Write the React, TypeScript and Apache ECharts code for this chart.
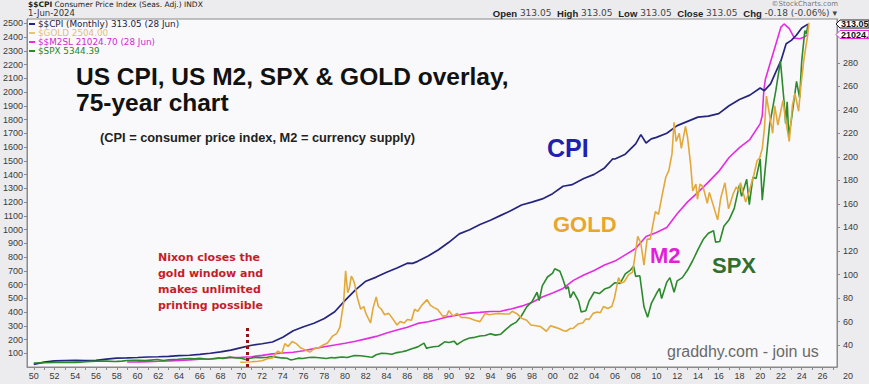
import React, { useEffect, useRef } from "react";
import * as echarts from "echarts";

// ---------- DATA ----------
const xLabelYears = [1950, 1952, 1954, 1956, 1958, 1960, 1962, 1964, 1966, 1968, 1970, 1972, 1974, 1976, 1978, 1980, 1982, 1984, 1986, 1988, 1990, 1992, 1994, 1996, 1998, 2000, 2002, 2004, 2006, 2008, 2010, 2012, 2014, 2016, 2018, 2020, 2022, 2024, 2026];
const xTickYears = [1950, 1951, 1952, 1953, 1954, 1955, 1956, 1957, 1958, 1959, 1960, 1961, 1962, 1963, 1964, 1965, 1966, 1967, 1968, 1969, 1970, 1971, 1972, 1973, 1974, 1975, 1976, 1977, 1978, 1979, 1980, 1981, 1982, 1983, 1984, 1985, 1986, 1987, 1988, 1989, 1990, 1991, 1992, 1993, 1994, 1995, 1996, 1997, 1998, 1999, 2000, 2001, 2002, 2003, 2004, 2005, 2006, 2007, 2008, 2009, 2010, 2011, 2012, 2013, 2014, 2015, 2016, 2017, 2018, 2019, 2020, 2021, 2022, 2023, 2024, 2025, 2026, 2027];
const leftTicks = [100, 200, 300, 400, 500, 600, 700, 800, 900, 1000, 1100, 1200, 1300, 1400, 1500, 1600, 1700, 1800, 1900, 2000, 2100, 2200, 2300, 2400, 2500];
const rightTicks = [40, 60, 80, 100, 120, 140, 160, 180, 200, 220, 240, 260, 280];

const cpiSeries: [number, number][] = [
  [1950.0, 23.5], [1951.0, 25.4], [1952.0, 26.5], [1953.0, 26.7], [1954.0, 26.9], [1955.0, 26.8], [1956.0, 27.0], [1957.0, 28.0], [1958.0, 28.9], [1959.0, 29.1],
  [1960.0, 29.4], [1961.0, 29.8], [1962.0, 30.0], [1963.0, 30.4], [1964.0, 30.9], [1965.0, 31.3], [1966.0, 32.0], [1967.0, 33.0], [1968.0, 34.1], [1969.0, 35.6],
  [1970.0, 37.8], [1971.0, 39.8], [1972.0, 41.1], [1973.0, 42.6], [1974.0, 46.6], [1975.0, 52.1], [1976.0, 55.6], [1977.0, 58.5], [1978.0, 62.5], [1979.0, 68.3],
  [1980.0, 78.0], [1981.0, 87.0], [1982.0, 94.3], [1983.0, 97.8], [1984.0, 101.9], [1985.0, 105.5], [1986.0, 109.6], [1986.5, 109.5], [1987.0, 111.2], [1988.0, 115.7], [1989.0, 121.1],
  [1990.0, 127.4], [1991.0, 134.6], [1992.0, 138.1], [1993.0, 142.6], [1994.0, 146.2], [1995.0, 150.3], [1996.0, 154.4], [1997.0, 159.1], [1998.0, 161.6], [1999.0, 164.3],
  [2000.0, 168.8], [2001.0, 175.1], [2001.9, 176.5], [2002.0, 177.1], [2003.0, 181.7], [2004.0, 185.2], [2005.0, 190.7], [2005.8, 198.5], [2006.0, 198.3], [2007.0, 202.4], [2008.0, 211.1],
  [2008.5, 219.0], [2009.0, 211.9], [2009.5, 215.4], [2010.0, 216.7], [2011.0, 220.2], [2012.0, 226.7], [2013.0, 230.3], [2014.0, 233.9], [2015.0, 234.7],
  [2016.0, 236.9], [2017.0, 243.6], [2018.0, 248.9], [2019.0, 252.6], [2020.0, 258.7], [2020.4, 256.4], [2021.0, 262.2], [2021.5, 272.2], [2022.0, 281.9],
  [2022.5, 296.3], [2023.0, 299.2], [2023.5, 303.8], [2024.0, 309.7], [2024.6, 313.05]
];

const goldSeries: [number, number][] = [
  [1969.9, 35], [1970.5, 36], [1971.0, 38], [1971.6, 42], [1972.0, 46], [1972.5, 60], [1973.0, 65], [1973.5, 115], [1973.9, 100], [1974.2, 170],
  [1974.5, 150], [1974.9, 185], [1975.3, 170], [1975.7, 140], [1976.0, 130], [1976.6, 108], [1977.0, 132], [1977.5, 142], [1977.9, 160], [1978.3, 175],
  [1978.8, 225], [1979.2, 245], [1979.5, 290], [1979.7, 390], [1979.85, 460], [1980.05, 700], [1980.25, 540], [1980.4, 570], [1980.6, 660], [1980.75, 640],
  [1980.9, 610], [1981.2, 500], [1981.5, 420], [1981.8, 440], [1982.0, 390], [1982.45, 320], [1982.7, 430], [1983.0, 510], [1983.2, 440], [1983.5, 420],
  [1983.8, 380], [1984.2, 390], [1984.6, 350], [1985.0, 305], [1985.3, 330], [1985.7, 320], [1986.0, 345], [1986.4, 340], [1986.7, 420], [1987.0, 405],
  [1987.4, 450], [1987.9, 490], [1988.2, 450], [1988.6, 430], [1988.9, 420], [1989.4, 370], [1989.8, 375], [1990.0, 410], [1990.4, 370], [1990.8, 390],
  [1991.2, 360], [1991.6, 360], [1992.0, 355], [1992.5, 340], [1993.0, 330], [1993.5, 390], [1993.9, 380], [1994.3, 385], [1994.8, 390], [1995.3, 385],
  [1995.8, 385], [1996.1, 405], [1996.6, 385], [1997.0, 355], [1997.5, 340], [1997.9, 305], [1998.4, 300], [1998.8, 295], [1999.4, 260], [1999.8, 300],
  [2000.2, 290], [2000.6, 280], [2001.0, 265], [2001.3, 260], [2001.7, 280], [2002.0, 282], [2002.5, 315], [2002.9, 320], [2003.2, 350], [2003.5, 345],
  [2003.9, 390], [2004.3, 400], [2004.6, 395], [2004.9, 440], [2005.3, 425], [2005.7, 440], [2005.95, 500], [2006.35, 650], [2006.6, 610], [2006.9, 620],
  [2007.3, 670], [2007.7, 690], [2007.9, 790], [2008.2, 950], [2008.5, 900], [2008.8, 740], [2009.1, 930], [2009.4, 930], [2009.9, 1130], [2010.2, 1110],
  [2010.5, 1230], [2010.9, 1380], [2011.2, 1430], [2011.5, 1550], [2011.7, 1780], [2011.9, 1640], [2012.2, 1700], [2012.4, 1590], [2012.8, 1750], [2013.0, 1670],
  [2013.3, 1470], [2013.5, 1280], [2013.8, 1330], [2013.95, 1220], [2014.2, 1330], [2014.5, 1310], [2014.9, 1190], [2015.1, 1270], [2015.5, 1170], [2015.9, 1070],
  [2016.2, 1230], [2016.6, 1340], [2016.95, 1150], [2017.4, 1260], [2017.7, 1310], [2017.95, 1280], [2018.1, 1340], [2018.6, 1200], [2018.95, 1280], [2019.4, 1400],
  [2019.7, 1500], [2019.95, 1520], [2020.2, 1590], [2020.4, 1730], [2020.6, 1970], [2020.8, 1880], [2021.2, 1700], [2021.4, 1900], [2021.7, 1760], [2022.2, 1940],
  [2022.4, 1820], [2022.8, 1640], [2023.1, 1900], [2023.35, 1990], [2023.7, 1860], [2023.9, 2030], [2024.2, 2230], [2024.4, 2330], [2024.55, 2400], [2024.7, 2504]
];

const m2Series: [number, number][] = [
  [1959.0, 286], [1960.0, 298], [1961.0, 312], [1962.0, 334], [1963.0, 362], [1964.0, 392], [1965.0, 424], [1966.0, 460], [1967.0, 481], [1968.0, 527],
  [1969.0, 571], [1970.0, 589], [1971.0, 627], [1972.0, 710], [1973.0, 802], [1974.0, 856], [1975.0, 909], [1976.0, 1007], [1977.0, 1136], [1978.0, 1252],
  [1979.0, 1362], [1980.0, 1475], [1981.0, 1601], [1982.0, 1756], [1983.0, 1911], [1984.0, 2127], [1985.0, 2312], [1986.0, 2497], [1987.0, 2734], [1988.0, 2835],
  [1989.0, 2996], [1990.0, 3165], [1991.0, 3284], [1992.0, 3383], [1993.0, 3431], [1994.0, 3491], [1995.0, 3502], [1996.0, 3651], [1997.0, 3827], [1998.0, 4054],
  [1999.0, 4405], [2000.0, 4655], [2001.0, 4949], [2002.0, 5461], [2003.0, 5797], [2004.0, 6082], [2005.0, 6430], [2006.0, 6681], [2007.0, 7078], [2008.0, 7476],
  [2009.0, 8244], [2010.0, 8487], [2011.0, 8812], [2012.0, 9681], [2013.0, 10430], [2014.0, 11030], [2015.0, 11680], [2016.0, 12360], [2017.0, 13240], [2018.0, 13870],
  [2019.0, 14380], [2020.0, 15390], [2020.2, 15900], [2020.35, 17500], [2020.5, 18200], [2021.0, 19300], [2021.5, 20400], [2022.0, 21500], [2022.3, 21700], [2022.8, 21400],
  [2023.3, 20800], [2023.8, 20760], [2024.2, 20850], [2024.6, 21024]
];

const spxSeries: [number, number][] = [
  [1950.0, 17], [1951.0, 21], [1952.0, 24], [1953.0, 25], [1953.7, 23], [1954.0, 26], [1954.5, 29], [1955.0, 36], [1955.5, 41], [1956.0, 44],
  [1956.6, 47], [1957.0, 45], [1957.8, 40], [1958.0, 41], [1958.5, 45], [1959.0, 55], [1959.6, 59], [1960.0, 58], [1960.8, 54], [1961.0, 58],
  [1961.9, 71], [1962.5, 55], [1963.0, 66], [1963.9, 74], [1964.5, 82], [1965.0, 86], [1965.5, 84], [1966.0, 92], [1966.8, 74], [1967.0, 80],
  [1967.9, 96], [1968.2, 89], [1968.9, 108], [1969.5, 95], [1970.0, 90], [1970.4, 72], [1971.0, 95], [1971.3, 104], [1971.9, 100], [1972.5, 107],
  [1972.95, 118], [1973.5, 105], [1973.9, 96], [1974.4, 90], [1974.75, 65], [1975.0, 70], [1975.5, 92], [1975.9, 88], [1976.5, 102], [1976.95, 107],
  [1977.5, 99], [1978.2, 88], [1978.7, 103], [1979.0, 96], [1979.7, 110], [1980.2, 102], [1980.9, 135], [1981.5, 130], [1982.4, 110], [1982.6, 107],
  [1983.0, 145], [1983.5, 168], [1984.0, 165], [1984.5, 153], [1985.0, 180], [1985.5, 192], [1985.95, 211], [1986.5, 245], [1987.0, 270], [1987.6, 330],
  [1987.85, 245], [1988.0, 257], [1988.5, 272], [1989.0, 280], [1989.6, 350], [1990.0, 340], [1990.5, 360], [1990.8, 305], [1991.0, 330], [1991.5, 380],
  [1992.0, 410], [1992.5, 420], [1993.0, 440], [1993.5, 450], [1994.0, 475], [1994.5, 455], [1995.0, 470], [1995.5, 545], [1996.0, 615], [1996.5, 660],
  [1997.0, 760], [1997.5, 900], [1998.0, 980], [1998.5, 1130], [1998.7, 1000], [1999.0, 1230], [1999.5, 1370], [2000.0, 1430], [2000.2, 1500], [2000.7, 1460],
  [2001.0, 1330], [2001.3, 1180], [2001.5, 1220], [2001.7, 1040], [2002.0, 1140], [2002.5, 990], [2002.75, 820], [2003.2, 840], [2003.5, 990], [2004.0, 1130],
  [2004.5, 1110], [2005.0, 1180], [2005.5, 1210], [2006.0, 1280], [2006.5, 1270], [2007.0, 1420], [2007.5, 1480], [2007.8, 1540], [2008.0, 1380], [2008.4, 1390],
  [2008.8, 900], [2009.15, 735], [2009.5, 950], [2010.0, 1110], [2010.3, 1190], [2010.5, 1030], [2011.0, 1290], [2011.3, 1360], [2011.7, 1130], [2012.0, 1310],
  [2012.5, 1360], [2013.0, 1480], [2013.5, 1630], [2014.0, 1800], [2014.5, 1960], [2015.0, 2060], [2015.5, 2100], [2015.7, 1920], [2016.1, 1930], [2016.5, 2170],
  [2017.0, 2270], [2017.5, 2450], [2018.0, 2820], [2018.2, 2640], [2018.7, 2910], [2018.95, 2510], [2019.3, 2940], [2019.6, 2920], [2020.0, 3230], [2020.2, 2580],
  [2020.5, 3100], [2020.9, 3760], [2021.5, 4300], [2021.95, 4770], [2022.3, 4130], [2022.45, 3790], [2022.6, 4130], [2022.75, 3590], [2023.0, 3840], [2023.5, 4450],
  [2023.8, 4190], [2024.0, 4770], [2024.3, 5250], [2024.45, 5200], [2024.6, 5344]
];

const nixonYear = 1970.6;

// ---------- STYLE ----------
const C_CPI = "#25257f";
const C_GOLD = "#e2a83a";
const C_M2 = "#e52ce0";
const C_SPX = "#2b8a2b";
const FONT = "'Liberation Sans', Arial, sans-serif";
const VFONT = "'DejaVu Sans', Verdana, sans-serif";

export default function App() {
  const ref = useRef<HTMLDivElement>(null);
  useEffect(() => {
    if (!ref.current) return;
    const chart = echarts.init(ref.current, null, { renderer: "svg" });
    const axisLine = { show: true, lineStyle: { color: "#8a8a8a", width: 1 } };
    const legendRows = [
      { t: "$$CPI (Monthly) 313.05 (28 Jun)", c: C_CPI, tc: "#23233f" },
      { t: "$GOLD 2504.00", c: "#e4c674", tc: "#e0c078" },
      { t: "$$M2SL 21024.70 (28 Jun)", c: C_M2, tc: "#d22ad0" },
      { t: "$SPX 5344.39", c: C_SPX, tc: "#2a842a" },
    ];
    const legendGraphics: any[] = [];
    legendRows.forEach((r, i) => {
      const y = 24 + i * 9;
      legendGraphics.push({ type: "line", shape: { x1: 29, y1: y, x2: 35, y2: y }, style: { stroke: r.c, lineWidth: 2 }, z: 100 });
      legendGraphics.push({ type: "text", x: 38, y, style: { text: r.t, fill: r.tc, font: `8.8px ${VFONT}`, verticalAlign: "middle" }, z: 100 });
    });

    chart.setOption({
      animation: false,
      backgroundColor: "#ececef",
      grid: { left: 26, right: 32, top: 19, bottom: 17, show: true, backgroundColor: "#f9f9fb", borderColor: "#8a8a8a", borderWidth: 1 },
      xAxis: {
        type: "value", min: 1949.35, max: 2027.4,
        axisLine,
        splitLine: { show: false },
        axisTick: { show: true, customValues: xTickYears, length: 3, lineStyle: { color: "#8a8a8a" } },
        axisLabel: { customValues: xLabelYears, formatter: (v: number) => String(Math.round(v) % 100).padStart(2, "0"), fontSize: 9, color: "#3a3a3a", fontFamily: FONT, margin: 4 },
      },
      yAxis: [
        {
          type: "value", min: 0, max: 2531, position: "left",
          axisLine, splitLine: { show: false },
          axisTick: { show: true, customValues: leftTicks, length: 3, lineStyle: { color: "#8a8a8a" } },
          axisLabel: { customValues: leftTicks, formatter: (v: number) => String(Math.round(v)), fontSize: 9, color: "#3a3a3a", fontFamily: FONT, margin: 4 },
        },
        {
          type: "value", min: 21.3, max: 317.4, position: "right",
          axisLine, splitLine: { show: false },
          axisTick: { show: true, customValues: rightTicks, length: 3, lineStyle: { color: "#8a8a8a" } },
          axisLabel: { customValues: rightTicks, formatter: (v: number) => String(Math.round(v)), fontSize: 9, color: "#3a3a3a", fontFamily: FONT, margin: 6 },
        },
        { type: "value", min: -27, max: 22013, show: false },
        { type: "value", min: -47, max: 5433, show: false },
      ],
      series: [
        { name: "M2", type: "line", yAxisIndex: 2, data: m2Series, showSymbol: false, lineStyle: { color: C_M2, width: 1.6 }, z: 2 },
        { name: "CPI", type: "line", yAxisIndex: 1, data: cpiSeries, showSymbol: false, lineStyle: { color: C_CPI, width: 1.7 }, z: 3 },
        { name: "SPX", type: "line", yAxisIndex: 3, data: spxSeries, showSymbol: false, lineStyle: { color: C_SPX, width: 1.6 }, z: 4 },
        {
          name: "GOLD", type: "line", yAxisIndex: 0, data: goldSeries, showSymbol: false, lineStyle: { color: C_GOLD, width: 1.6 }, z: 5,
          markLine: {
            silent: true, symbol: "none", label: { show: false },
            lineStyle: { color: "#8e1414", width: 3, type: [3, 3] },
            data: [[{ coord: [nixonYear, 0] }, { coord: [nixonYear, 290] }]],
          },
        },
      ],
      graphic: [
        // header
        { type: "text", x: 28, y: 0, style: { text: "{b|$$CPI} Consumer Price Index (Seas. Adj.) INDX", fill: "#222", font: `7.5px ${VFONT}`, rich: { b: { fontWeight: "bold", fontSize: 7.5, fontFamily: VFONT, fill: "#222" } } } },
        { type: "text", x: 28, y: 8, style: { text: "1-Jun-2024", fill: "#333", font: `8.5px ${VFONT}` } },
        { type: "text", x: 838, y: 0, style: { text: "©StockCharts.com", fill: "#777", font: `7px ${VFONT}`, align: "right" } },
        {
          type: "text", x: 837, y: 8,
          style: {
            text: "{b|Open} 313.05  {b|High} 313.05  {b|Low} 313.05  {b|Close} 313.05  {b|Chg} -0.18 (-0.06%) ▾",
            fill: "#444", font: `9px ${VFONT}`, align: "right",
            rich: { b: { fontWeight: "bold", fontSize: 9.5, fontFamily: FONT, fill: "#222" } },
          },
        },
        ...legendGraphics,
        // price tags on right
        { type: "polygon", shape: { points: [[836, 24], [840, 20], [869, 20], [869, 28], [840, 28]] }, style: { fill: "#fff", stroke: "#222", lineWidth: 1 }, z: 100 },
        { type: "text", x: 841, y: 24, style: { text: "313.05", fill: "#111", font: `bold 9px ${FONT}`, verticalAlign: "middle" }, z: 101 },
        { type: "polygon", shape: { points: [[836, 34.5], [840, 30.5], [869, 30.5], [869, 38.5], [840, 38.5]] }, style: { fill: "#fff", stroke: C_M2, lineWidth: 1 }, z: 100 },
        { type: "text", x: 841, y: 34.5, style: { text: "21024.", fill: "#111", font: `bold 9px ${FONT}`, verticalAlign: "middle" }, z: 101 },
        { type: "text", x: 843, y: 376, style: { text: "20", fill: "#3a3a3a", font: `9px ${FONT}`, verticalAlign: "middle" } },
        // titles
        { type: "text", x: 76, y: 64, style: { text: "US CPI, US M2, SPX & GOLD overlay,", fill: "#111", font: `bold 24.5px ${FONT}` }, z: 50 },
        { type: "text", x: 76, y: 90, style: { text: "75-year chart", fill: "#111", font: `bold 24.5px ${FONT}` }, z: 50 },
        { type: "text", x: 100, y: 131, style: { text: "(CPI = consumer price index, M2 = currency supply)", fill: "#222", font: `bold 12.8px ${FONT}` }, z: 50 },
        // series labels
        { type: "text", x: 547, y: 135, style: { text: "CPI", fill: "#1f1fb0", font: `bold 25px ${FONT}` }, z: 50 },
        { type: "text", x: 553, y: 213, style: { text: "GOLD", fill: "#e8a62c", font: `bold 22px ${FONT}` }, z: 50 },
        { type: "text", x: 650, y: 244, style: { text: "M2", fill: "#e21fd8", font: `bold 22px ${FONT}` }, z: 50 },
        { type: "text", x: 712, y: 254, style: { text: "SPX", fill: "#2f6f2f", font: `bold 22px ${FONT}` }, z: 50 },
        // Nixon annotation
        { type: "text", x: 158, y: 249, style: { text: "Nixon closes the\ngold window and\nmakes unlimited\nprinting possible", fill: "#c41e2a", font: `bold 11px ${VFONT}`, lineHeight: 16 }, z: 50 },
        // watermark
        { type: "text", x: 667, y: 343, style: { text: "graddhy.com - join us", fill: "#6a6a6a", font: `16px ${FONT}` }, z: 50 },
      ],
    });
    return () => chart.dispose();
  }, []);
  return <div ref={ref} style={{ position: "fixed", left: 0, top: 0, width: 869, height: 384 }} />;
}
